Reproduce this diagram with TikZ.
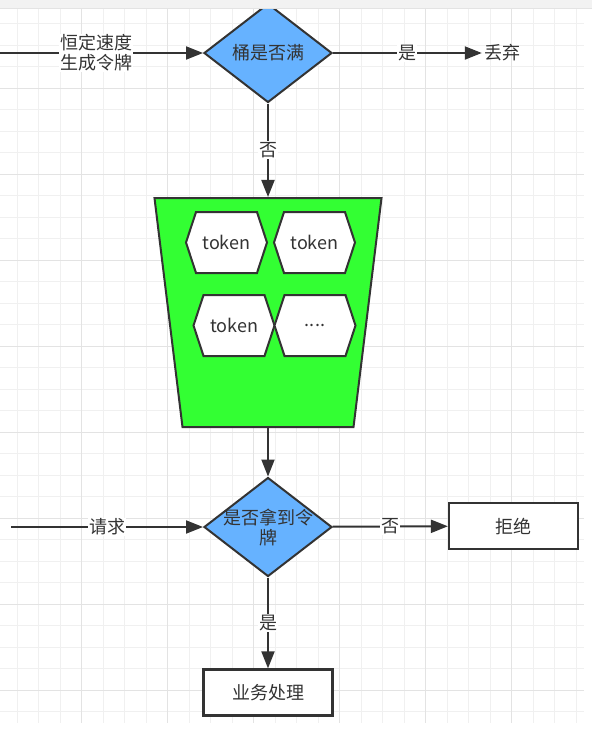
\documentclass[tikz,border=0pt]{standalone}
\usepackage{fontspec}
\usepackage{tikz}
\usetikzlibrary{shapes.geometric, shapes.symbols, arrows.meta, positioning}
\newfontfamily\cjk{Noto Sans CJK SC}
\definecolor{darkline}{HTML}{333333}
\definecolor{skyblue}{HTML}{66B2FF}
\definecolor{brightgreen}{HTML}{33FF33}
\definecolor{gridminor}{HTML}{F0F0F0}
\definecolor{gridmajor}{HTML}{E3E3E3}
\definecolor{topbar}{HTML}{F2F2F2}
\tikzset{
	txt/.style={font=\cjk\fontsize{18pt}{20pt}\selectfont, text=darkline},
	decision/.style={diamond, draw=darkline, fill=skyblue, line width=2pt,
		minimum width=128pt, minimum height=99pt, inner sep=0pt, txt},
	tokenbox/.style={signal, signal to=east and west, signal pointer angle=143.6,
		draw=darkline, fill=white, line width=2pt,
		minimum width=81pt, minimum height=61pt, inner sep=0pt, txt},
	endbox/.style={rectangle, draw=darkline, fill=white, line width=2.2pt,
		minimum width=129pt, minimum height=46pt, txt},
	flow/.style={draw=darkline, line width=2pt, -{Triangle[length=17pt, width=13pt]}},
	lbl/.style={fill=white, inner sep=1pt, align=center, txt},
}

\begin{document}
\begin{tikzpicture}[x=1pt, y=-1pt]
				\useasboundingbox (0,0) rectangle (592,731);
				% grid
				\foreach \i in {0,...,26}
					\draw[gridminor, line width=1pt] ({17.2+21.5*\i},8) -- ({17.2+21.5*\i},723);
				\foreach \j in {0,...,32}
					\draw[gridminor, line width=1pt] (0,{23.8+21.5*\j}) -- (584,{23.8+21.5*\j});
				\foreach \i in {0,...,5}
					\draw[gridmajor, line width=1pt] ({81.7+86*\i},8) -- ({81.7+86*\i},723);
				\foreach \j in {0,...,7}
					\draw[gridmajor, line width=1pt] (0,{88.3+86*\j}) -- (584,{88.3+86*\j});

				\node[decision] (full) at (268,53) {桶是否满};
				\node[txt, inner sep=2pt] (drop) at (502,53) {丢弃};
				\coordinate (src) at (0,53);

				\node[trapezium, trapezium stretches=true, trapezium angle=80.7,
				shape border rotate=180, draw=darkline, fill=brightgreen, line width=2pt,
				minimum width=227pt, minimum height=229pt] (bucket) at (268,312.5) {};
				\node[tokenbox] (tok1) at (226.5,242.5) {token};
				\node[tokenbox] (tok2) at (314.5,242.5) {token};
				\node[tokenbox] (tok3) at (234,325.5) {token};
				\node[tokenbox] (tok4) at (315,325.5) {....};

				\node[decision, label={[txt, align=center]center:是否拿到令\\牌}] (got) at (268,527) {};
				\coordinate (req) at (11,527);
				\node[endbox] (reject) at (513.5,526) {拒绝};
				\node[endbox] (serve) at (268,692.5) {业务处理};

				\draw[flow] (src) -- node[lbl, pos=0.475]{恒定速度\\生成令牌} (full);
				\draw[flow] (full) -- node[lbl]{是} (drop);
				\draw[flow] (full) -- node[lbl]{否} (bucket);
				\draw[flow] (bucket) -- (got);
				\draw[flow] (req) -- node[lbl]{请求} (got);
				\draw[flow] (got) -- node[lbl]{否} (reject);
				\draw[flow] (got) -- node[lbl]{是} (serve);

				\fill[topbar] (0,0) rectangle (592,8);
				\draw[gridmajor, line width=1pt] (0,8) -- (592,8);
			\end{tikzpicture}
\end{document}
